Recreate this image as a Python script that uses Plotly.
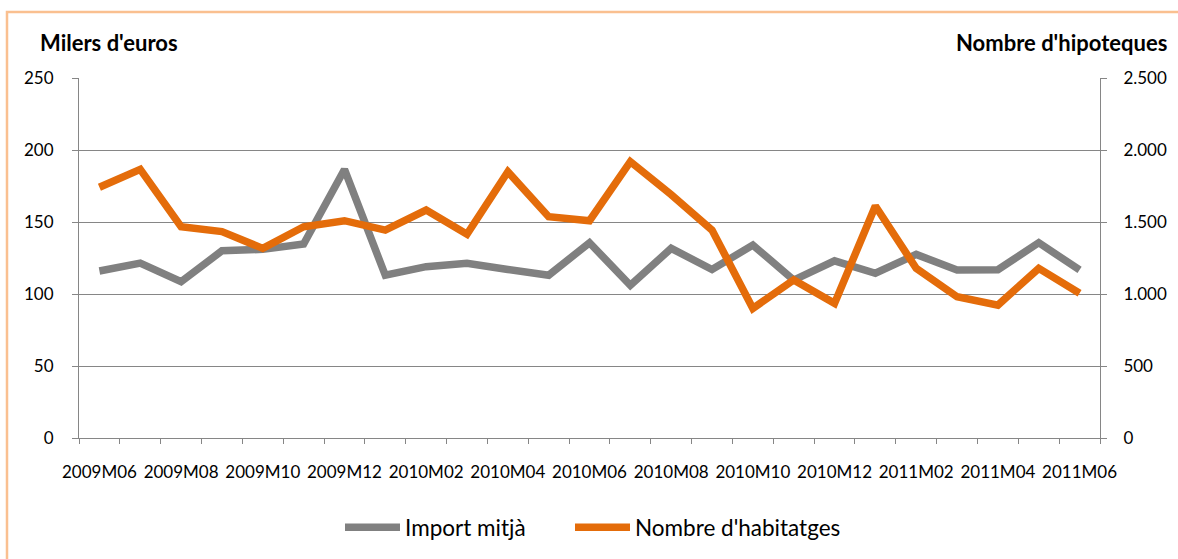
import plotly.graph_objects as go

months = ["2009M06","2009M07","2009M08","2009M09","2009M10","2009M11","2009M12",
          "2010M01","2010M02","2010M03","2010M04","2010M05","2010M06","2010M07",
          "2010M08","2010M09","2010M10","2010M11","2010M12","2011M01","2011M02",
          "2011M03","2011M04","2011M05","2011M06"]
import_mitja = [116, 121.5, 108.5, 130, 131, 134.7, 186.5, 113, 119, 121.3, 117, 113,
                135.6, 106, 131.7, 117, 134, 109.7, 123, 114.4, 127.5, 116.7, 116.9,
                135.6, 116.7]
nombre_habitatges = [1741, 1866, 1467, 1433, 1317, 1467, 1509, 1444, 1583, 1415, 1849,
                     1537, 1509, 1919, 1690, 1444, 900, 1097, 935, 1611, 1178, 981, 923,
                     1178, 1005]
left_ticks = [0, 50, 100, 150, 200, 250]
right_ticks = [0, 500, 1000, 1500, 2000, 2500]
right_ticktext = ["0", "500", "1.000", "1.500", "2.000", "2.500"]

FONT = "Lato"
GRID = "#868686"
L, R, T, B = 79, 78, 78, 121
PW, PH = 1178 - L - R, 559 - T - B


def px_x(x):
    return (x - L) / PW


def px_y(y):
    return 1 - (y - T) / PH


fig = go.Figure()
fig.add_trace(go.Scatter(x=months, y=import_mitja, name="Import mitjà", mode="lines",
                         line=dict(color="#808080", width=7.5), legend="legend"))
fig.add_trace(go.Scatter(x=months, y=nombre_habitatges, name="Nombre d'habitatges",
                         mode="lines", yaxis="y2", line=dict(color="#E46C0A", width=7.5),
                         legend="legend2"))

ticktext_x = [m if i % 2 == 0 else "" for i, m in enumerate(months)]

legend_common = dict(orientation="h", xanchor="left", yanchor="top",
                     font=dict(size=22.5, family=FONT), itemwidth=55,
                     bgcolor="rgba(0,0,0,0)")

fig.update_layout(
    width=1178, height=559,
    margin=dict(l=L, r=R, t=T, b=B, autoexpand=False),
    paper_bgcolor="white", plot_bgcolor="white",
    font=dict(family=FONT, size=13, color="#000000"),
    showlegend=True,
    legend=dict(x=px_x(340), y=px_y(506), **legend_common),
    legend2=dict(x=px_x(570), y=px_y(506), **legend_common),
    xaxis=dict(type="category", categoryorder="array", categoryarray=months,
               tickvals=months, ticktext=ticktext_x, tickson="boundaries", tickangle=0,
               ticks="outside", ticklen=5, tickcolor=GRID, tickwidth=1,
               showline=True, linecolor=GRID, linewidth=1, showgrid=False,
               tickfont=dict(size=17, family=FONT), range=[-0.5, 24.5],
               automargin=False, ticklabelstandoff=19),
    yaxis=dict(range=[0, 250], tickvals=left_ticks, ticks="outside", ticklen=6,
               tickcolor=GRID, showline=True, linecolor=GRID, linewidth=1,
               showgrid=True, gridcolor=GRID, gridwidth=1, zeroline=False,
               tickfont=dict(size=17, family=FONT), ticklabelstandoff=15,
               automargin=False),
    yaxis2=dict(range=[0, 2500], tickvals=right_ticks, ticktext=right_ticktext,
                overlaying="y", side="right", ticks="outside", ticklen=6,
                tickcolor=GRID, showline=True, linecolor=GRID, linewidth=1,
                showgrid=False, zeroline=False,
                tickfont=dict(size=17, family=FONT), ticklabelstandoff=13,
                automargin=False),
    annotations=[
        dict(text="<b>Milers d'euros</b>", xref="paper", yref="paper",
             x=px_x(38), y=px_y(43), xanchor="left", yanchor="middle",
             showarrow=False, font=dict(size=22, family=FONT)),
        dict(text="<b>Nombre d'hipoteques</b>", xref="paper", yref="paper",
             x=px_x(1169), y=px_y(43), xanchor="right", yanchor="middle",
             showarrow=False, font=dict(size=22, family=FONT)),
    ],
    shapes=[
        dict(type="rect", xref="paper", yref="paper",
             x0=px_x(7), x1=px_x(1200), y0=px_y(600), y1=px_y(12),
             line=dict(color="#FAC090", width=2.5), fillcolor="rgba(0,0,0,0)", layer="below"),
    ],
)

fig.write_html("out.html", config={"displayModeBar": False},
               post_script="document.body.style.margin='0';document.body.style.overflow='hidden';")
